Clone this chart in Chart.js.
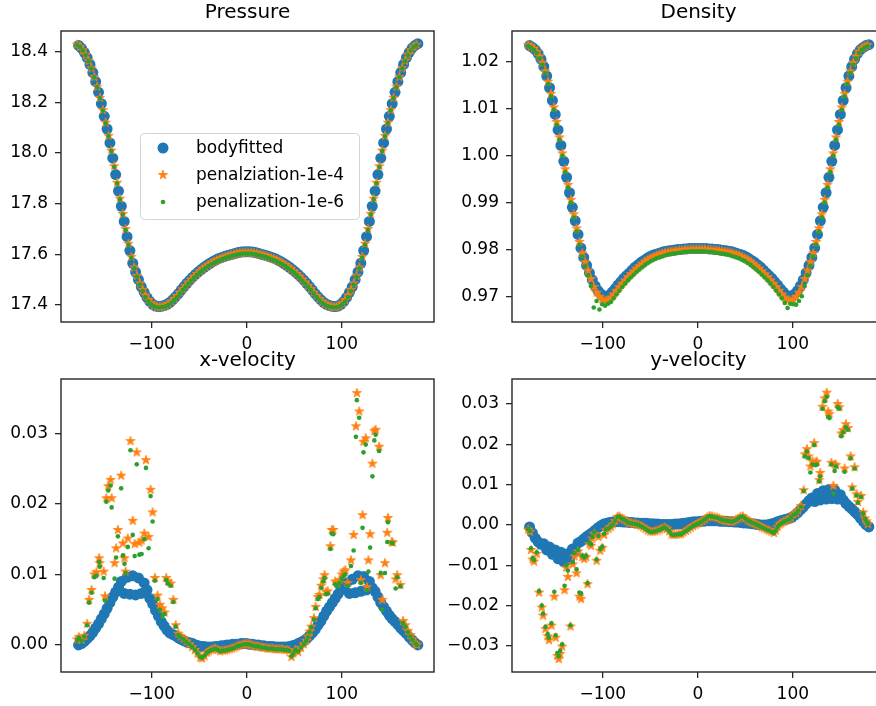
<!DOCTYPE html>
<html>
<head>
<meta charset="utf-8">
<title>Distribuicoes na superficie</title>
<script src="https://cdn.jsdelivr.net/npm/chart.js@4.4.0/dist/chart.umd.min.js"></script>
<style>
    html, body { margin: 0; padding: 0; background: #fff; overflow: hidden; }
    #figura { position: relative; width: 876px; height: 706px; overflow: hidden; }
    #figura canvas { position: absolute; }
</style>
</head>
<body>
<div id="figura">
    <canvas id="graficoPressao" width="440" height="350" style="left:0px;top:0px"></canvas>
    <canvas id="graficoDensidade" width="451" height="350" style="left:440px;top:0px"></canvas>
    <canvas id="graficoVelX" width="440" height="356" style="left:0px;top:350px"></canvas>
    <canvas id="graficoVelY" width="451" height="356" style="left:440px;top:350px"></canvas>
</div>
<script>
// angulos (graus) dos pontos na superficie - malha bodyfitted
const anguloBody = [
    -177, -174, -171, -168, -165, -162, -159, -156, -153, -150,
    -147, -144, -141, -138, -135, -132, -129, -126, -123, -120,
    -117, -114, -111, -108, -105, -102, -99, -96, -93, -90,
    -87, -84, -81, -78, -75, -72, -69, -66, -63, -60,
    -57, -54, -51, -48, -45, -42, -39, -36, -33, -30,
    -27, -24, -21, -18, -15, -12, -9, -6, -3, 0,
    3, 6, 9, 12, 15, 18, 21, 24, 27, 30,
    33, 36, 39, 42, 45, 48, 51, 54, 57, 60,
    63, 66, 69, 72, 75, 78, 81, 84, 87, 90,
    93, 96, 99, 102, 105, 108, 111, 114, 117, 120,
    123, 126, 129, 132, 135, 138, 141, 144, 147, 150,
    153, 156, 159, 162, 165, 168, 171, 174, 177, 180
];

// angulos dos pontos da penalizacao (pressao e densidade)
const anguloPen = [
    -178.5, -175.5, -172.5, -169.5, -166.5, -163.5, -160.5, -157.5, -154.5, -151.5,
    -148.5, -145.5, -142.5, -139.5, -136.5, -133.5, -130.5, -127.5, -124.5, -121.5,
    -118.5, -115.5, -112.5, -109.5, -106.5, -103.5, -100.5, -97.5, -94.5, -91.5,
    -88.5, -85.5, -82.5, -79.5, -76.5, -73.5, -70.5, -67.5, -64.5, -61.5,
    -58.5, -55.5, -52.5, -49.5, -46.5, -43.5, -40.5, -37.5, -34.5, -31.5,
    -28.5, -25.5, -22.5, -19.5, -16.5, -13.5, -10.5, -7.5, -4.5, -1.5,
    1.5, 4.5, 7.5, 10.5, 13.5, 16.5, 19.5, 22.5, 25.5, 28.5,
    31.5, 34.5, 37.5, 40.5, 43.5, 46.5, 49.5, 52.5, 55.5, 58.5,
    61.5, 64.5, 67.5, 70.5, 73.5, 76.5, 79.5, 82.5, 85.5, 88.5,
    91.5, 94.5, 97.5, 100.5, 103.5, 106.5, 109.5, 112.5, 115.5, 118.5,
    121.5, 124.5, 127.5, 130.5, 133.5, 136.5, 139.5, 142.5, 145.5, 148.5,
    151.5, 154.5, 157.5, 160.5, 163.5, 166.5, 169.5, 172.5, 175.5, 178.5
];

// Pressure
const pressaoBody = [
    18.425, 18.414, 18.398, 18.377, 18.350, 18.318, 18.282, 18.240, 18.195, 18.145,
    18.095, 18.040, 17.980, 17.915, 17.850, 17.790, 17.730, 17.670, 17.615, 17.565,
    17.530, 17.500, 17.472, 17.450, 17.430, 17.414, 17.403, 17.396, 17.394, 17.395,
    17.398, 17.403, 17.410, 17.420, 17.432, 17.445, 17.459, 17.473, 17.486, 17.498,
    17.510, 17.521, 17.531, 17.540, 17.549, 17.557, 17.564, 17.571, 17.577, 17.583,
    17.587, 17.591, 17.595, 17.598, 17.601, 17.604, 17.607, 17.609, 17.610, 17.610,
    17.610, 17.609, 17.607, 17.604, 17.601, 17.598, 17.595, 17.591, 17.587, 17.583,
    17.577, 17.571, 17.564, 17.557, 17.549, 17.540, 17.531, 17.521, 17.510, 17.498,
    17.486, 17.473, 17.459, 17.445, 17.432, 17.420, 17.410, 17.403, 17.398, 17.395,
    17.394, 17.396, 17.403, 17.414, 17.430, 17.450, 17.472, 17.500, 17.530, 17.565,
    17.615, 17.670, 17.730, 17.790, 17.850, 17.915, 17.980, 18.040, 18.095, 18.145,
    18.195, 18.240, 18.282, 18.318, 18.350, 18.377, 18.398, 18.414, 18.425, 18.432
];
const pressaoPen4 = [
    18.428, 18.420, 18.406, 18.388, 18.364, 18.335, 18.300, 18.262, 18.218, 18.170,
    18.120, 18.068, 18.010, 17.948, 17.883, 17.820, 17.760, 17.700, 17.642, 17.590,
    17.548, 17.515, 17.485, 17.460, 17.438, 17.420, 17.407, 17.398, 17.393, 17.392,
    17.394, 17.398, 17.404, 17.413, 17.424, 17.436, 17.449, 17.463, 17.476, 17.489,
    17.501, 17.512, 17.523, 17.533, 17.542, 17.550, 17.558, 17.565, 17.571, 17.577,
    17.582, 17.586, 17.590, 17.594, 17.597, 17.600, 17.603, 17.605, 17.607, 17.607,
    17.607, 17.607, 17.605, 17.603, 17.600, 17.597, 17.594, 17.590, 17.586, 17.582,
    17.577, 17.571, 17.565, 17.558, 17.550, 17.542, 17.533, 17.523, 17.512, 17.501,
    17.489, 17.476, 17.463, 17.449, 17.436, 17.424, 17.413, 17.404, 17.398, 17.394,
    17.392, 17.393, 17.398, 17.407, 17.420, 17.438, 17.460, 17.485, 17.515, 17.548,
    17.590, 17.642, 17.700, 17.760, 17.820, 17.883, 17.948, 18.010, 18.068, 18.120,
    18.170, 18.218, 18.262, 18.300, 18.335, 18.364, 18.388, 18.406, 18.420, 18.428
];
const pressaoPen6 = [
    18.427, 18.419, 18.405, 18.387, 18.363, 18.334, 18.299, 18.260, 18.216, 18.168,
    18.118, 18.066, 18.008, 17.945, 17.880, 17.817, 17.757, 17.696, 17.638, 17.586,
    17.545, 17.512, 17.481, 17.455, 17.432, 17.415, 17.403, 17.395, 17.391, 17.390,
    17.392, 17.395, 17.401, 17.409, 17.420, 17.432, 17.445, 17.459, 17.472, 17.485,
    17.497, 17.508, 17.519, 17.529, 17.538, 17.546, 17.554, 17.561, 17.567, 17.573,
    17.578, 17.582, 17.586, 17.590, 17.593, 17.596, 17.599, 17.601, 17.603, 17.603,
    17.603, 17.603, 17.601, 17.599, 17.596, 17.593, 17.590, 17.586, 17.582, 17.578,
    17.573, 17.567, 17.561, 17.554, 17.546, 17.538, 17.529, 17.519, 17.508, 17.497,
    17.485, 17.472, 17.459, 17.445, 17.432, 17.420, 17.409, 17.401, 17.395, 17.392,
    17.390, 17.391, 17.395, 17.403, 17.415, 17.432, 17.455, 17.481, 17.512, 17.545,
    17.586, 17.638, 17.696, 17.757, 17.817, 17.880, 17.945, 18.008, 18.066, 18.118,
    18.168, 18.216, 18.260, 18.299, 18.334, 18.363, 18.387, 18.405, 18.419, 18.427
];

// Density
const densBody = [
    1.0235, 1.0231, 1.0226, 1.0218, 1.0206, 1.0190, 1.0170, 1.0145, 1.0118, 1.0088,
    1.0055, 1.0022, 0.9988, 0.9954, 0.9921, 0.9890, 0.9861, 0.9832, 0.9803, 0.9783,
    0.9766, 0.9750, 0.9735, 0.9722, 0.9712, 0.9705, 0.9699, 0.9699, 0.9703, 0.9709,
    0.9716, 0.9724, 0.9731, 0.9738, 0.9744, 0.9750, 0.9756, 0.9762, 0.9767, 0.9772,
    0.9776, 0.9780, 0.9784, 0.9787, 0.9789, 0.9791, 0.9793, 0.9795, 0.9796, 0.9797,
    0.9798, 0.9799, 0.9800, 0.9800, 0.9801, 0.9801, 0.9802, 0.9802, 0.9802, 0.9802,
    0.9802, 0.9802, 0.9802, 0.9801, 0.9801, 0.9800, 0.9800, 0.9799, 0.9798, 0.9797,
    0.9796, 0.9795, 0.9793, 0.9791, 0.9789, 0.9787, 0.9784, 0.9780, 0.9776, 0.9772,
    0.9767, 0.9762, 0.9756, 0.9750, 0.9744, 0.9738, 0.9731, 0.9724, 0.9716, 0.9709,
    0.9703, 0.9699, 0.9699, 0.9705, 0.9712, 0.9722, 0.9735, 0.9750, 0.9766, 0.9783,
    0.9803, 0.9832, 0.9861, 0.9890, 0.9921, 0.9954, 0.9988, 1.0022, 1.0055, 1.0088,
    1.0118, 1.0145, 1.0170, 1.0190, 1.0206, 1.0218, 1.0226, 1.0231, 1.0235, 1.0237
];
const densPen4 = [
    1.0236, 1.0233, 1.0229, 1.0222, 1.0212, 1.0198, 1.0180, 1.0158, 1.0132, 1.0103,
    1.0072, 1.0039, 1.0005, 0.9971, 0.9938, 0.9906, 0.9875, 0.9845, 0.9816, 0.9792,
    0.9773, 0.9755, 0.9737, 0.9720, 0.9708, 0.9699, 0.9693, 0.9690, 0.9692, 0.9697,
    0.9704, 0.9712, 0.9720, 0.9727, 0.9734, 0.9741, 0.9747, 0.9753, 0.9759, 0.9764,
    0.9769, 0.9774, 0.9778, 0.9781, 0.9784, 0.9787, 0.9789, 0.9791, 0.9793, 0.9794,
    0.9795, 0.9796, 0.9797, 0.9798, 0.9798, 0.9799, 0.9799, 0.9800, 0.9800, 0.9800,
    0.9800, 0.9800, 0.9800, 0.9799, 0.9799, 0.9798, 0.9798, 0.9797, 0.9796, 0.9795,
    0.9794, 0.9793, 0.9791, 0.9789, 0.9787, 0.9784, 0.9781, 0.9778, 0.9774, 0.9769,
    0.9764, 0.9759, 0.9753, 0.9747, 0.9741, 0.9734, 0.9727, 0.9720, 0.9712, 0.9704,
    0.9697, 0.9692, 0.9690, 0.9693, 0.9699, 0.9708, 0.9720, 0.9737, 0.9755, 0.9773,
    0.9792, 0.9816, 0.9845, 0.9875, 0.9906, 0.9938, 0.9971, 1.0005, 1.0039, 1.0072,
    1.0103, 1.0132, 1.0158, 1.0180, 1.0198, 1.0212, 1.0222, 1.0229, 1.0233, 1.0236
];
const densPen6 = [
    1.0234, 1.0231, 1.0226, 1.0219, 1.0208, 1.0194, 1.0176, 1.0153, 1.0127, 1.0098,
    1.0066, 1.0034, 1.0000, 0.9965, 0.9932, 0.9900, 0.9868, 0.9838, 0.9810, 0.9785,
    0.9765, 0.9745, 0.9722, 0.9676, 0.9690, 0.9672, 0.9683, 0.9680, 0.9684, 0.9688,
    0.9696, 0.9704, 0.9712, 0.9720, 0.9727, 0.9734, 0.9740, 0.9746, 0.9752, 0.9757,
    0.9762, 0.9767, 0.9771, 0.9775, 0.9778, 0.9781, 0.9783, 0.9785, 0.9787, 0.9789,
    0.9790, 0.9791, 0.9792, 0.9793, 0.9794, 0.9795, 0.9795, 0.9796, 0.9796, 0.9796,
    0.9796, 0.9796, 0.9796, 0.9795, 0.9795, 0.9794, 0.9793, 0.9792, 0.9791, 0.9790,
    0.9789, 0.9787, 0.9785, 0.9783, 0.9781, 0.9778, 0.9775, 0.9771, 0.9767, 0.9762,
    0.9757, 0.9752, 0.9746, 0.9740, 0.9734, 0.9727, 0.9720, 0.9712, 0.9704, 0.9696,
    0.9686, 0.9675, 0.9684, 0.9683, 0.9682, 0.9690, 0.9700, 0.9722, 0.9745, 0.9765,
    0.9785, 0.9810, 0.9838, 0.9868, 0.9900, 0.9932, 0.9965, 1.0000, 1.0034, 1.0066,
    1.0098, 1.0127, 1.0153, 1.0176, 1.0194, 1.0208, 1.0219, 1.0226, 1.0231, 1.0234
];

// x-velocity
const velXBody = [
    0.0000, 0.0002, 0.0005, 0.0009, 0.0013, 0.0018, 0.0024, 0.0030, 0.0037, 0.0044,
    0.0052, 0.0060, 0.0068, 0.0075, 0.0082, 0.0090, 0.0073, 0.0096, 0.0072, 0.0098,
    0.0071, 0.0095, 0.0073, 0.0088, 0.0078, 0.0066, 0.0058, 0.0049, 0.0041, 0.0033,
    0.0027, 0.0021, 0.0017, 0.0015, 0.0013, 0.0010, 0.0008, 0.0006, 0.0004, 0.0003,
    0.0002, 0.0000, -0.0001, -0.0002, -0.0002, -0.0003, -0.0003, -0.0003, -0.0002, -0.0002,
    -0.0001, -0.0001, 0.0000, 0.0000, 0.0001, 0.0001, 0.0001, 0.0002, 0.0002, 0.0002,
    0.0001, 0.0001, 0.0000, 0.0000, -0.0001, -0.0001, -0.0002, -0.0002, -0.0002, -0.0003,
    -0.0003, -0.0003, -0.0003, -0.0003, -0.0002, -0.0001, 0.0000, 0.0002, 0.0004, 0.0006,
    0.0009, 0.0013, 0.0017, 0.0022, 0.0028, 0.0034, 0.0041, 0.0048, 0.0054, 0.0060,
    0.0066, 0.0072, 0.0078, 0.0083, 0.0088, 0.0073, 0.0093, 0.0074, 0.0098, 0.0076,
    0.0097, 0.0078, 0.0090, 0.0081, 0.0076, 0.0068, 0.0060, 0.0054, 0.0048, 0.0042,
    0.0037, 0.0033, 0.0029, 0.0024, 0.0020, 0.0016, 0.0011, 0.0007, 0.0003, 0.0000
];
const anguloVelX = [
    -178.5, -176.7, -173.9, -171.0, -168.0, -165.9, -163.4, -160.5, -158.2, -155.4,
    -154.8, -150.6, -149.2, -147.8, -145.8, -143.3, -142.2, -139.1, -137.5, -135.6,
    -132.2, -130.4, -128.7, -127.6, -125.2, -122.4, -120.0, -118.0, -115.8, -113.0,
    -110.7, -107.8, -106.1, -103.3, -101.2, -99.1, -96.7, -93.9, -91.5, -89.0,
    -86.5, -84.8, -83.0, -80.0, -77.3, -74.8, -72.0, -69.6, -66.5, -63.5,
    -60.5, -57.5, -54.5, -51.8, -49.0, -47.0, -44.5, -42.0, -40.0, -37.5,
    -35.0, -33.0, -30.5, -28.0, -25.5, -23.0, -20.5, -18.0, -15.5, -13.0,
    -10.5, -8.0, -5.5, -3.0, -0.5, 2.0, 4.5, 7.0, 9.5, 12.0,
    14.5, 17.0, 19.5, 22.0, 24.5, 27.0, 29.5, 32.0, 34.5, 37.0,
    39.5, 42.0, 44.5, 47.0, 49.0, 51.0, 54.0, 57.0, 60.0, 62.5,
    64.5, 66.0, 67.8, 70.6, 72.5, 74.8, 76.5, 78.3, 80.5, 81.8,
    83.5, 85.2, 88.0, 89.5, 91.0, 93.0, 95.0, 97.5, 100.0, 102.0,
    103.7, 106.0, 109.6, 112.4, 114.8, 115.8, 118.3, 120.0, 121.8, 122.8,
    125.2, 126.5, 128.0, 129.8, 132.2, 134.2, 135.6, 139.2, 140.9, 142.6,
    145.4, 147.8, 148.5, 152.5, 153.5, 156.6, 158.3, 161.7, 164.5, 167.0,
    169.5, 172.1, 174.5, 177.4, 179.0
];
const velXPen4 = [
    0.0008, 0.0011, 0.0007, 0.0013, 0.0030, 0.0064, 0.0078, 0.0100, 0.0103, 0.0123,
    0.0116, 0.0104, 0.0069, 0.0208, 0.0225, 0.0234, 0.0208, 0.0116, 0.0137, 0.0163,
    0.0240, 0.0144, 0.0123, 0.0104, 0.0151, 0.0289, 0.0176, 0.0143, 0.0273, 0.0145,
    0.0148, 0.0158, 0.0262, 0.0153, 0.0220, 0.0188, 0.0095, 0.0070, 0.0057, 0.0052,
    0.0046, 0.0095, 0.0090, 0.0087, 0.0064, 0.0028, 0.0016, 0.0012, 0.0009, 0.0005,
    0.0001, -0.0003, -0.0007, -0.0012, -0.0018, -0.0019, -0.0016, -0.0011, -0.0009, -0.0007,
    -0.0006, -0.0005, -0.0007, -0.0009, -0.0008, -0.0008, -0.0007, -0.0006, -0.0005, -0.0004,
    -0.0002, -0.0001, 0.0000, 0.0001, 0.0002, 0.0001, 0.0000, -0.0001, -0.0002, -0.0002,
    -0.0003, -0.0004, -0.0004, -0.0005, -0.0005, -0.0005, -0.0006, -0.0006, -0.0006, -0.0006,
    -0.0007, -0.0007, -0.0008, -0.0017, -0.0012, -0.0007, -0.0010, -0.0004, 0.0001, 0.0006,
    0.0012, 0.0019, 0.0026, 0.0038, 0.0054, 0.0068, 0.0071, 0.0084, 0.0093, 0.0099,
    0.0075, 0.0076, 0.0140, 0.0163, 0.0163, 0.0090, 0.0087, 0.0092, 0.0100, 0.0104,
    0.0106, 0.0088, 0.0120, 0.0156, 0.0310, 0.0357, 0.0331, 0.0092, 0.0184, 0.0288,
    0.0293, 0.0082, 0.0120, 0.0157, 0.0257, 0.0303, 0.0305, 0.0281, 0.0099, 0.0064,
    0.0116, 0.0159, 0.0180, 0.0146, 0.0145, 0.0093, 0.0099, 0.0085, 0.0034, 0.0028,
    0.0020, 0.0014, 0.0008, 0.0002, 0.0000
];
const velXPen6 = [
    0.0007, 0.0010, 0.0006, 0.0012, 0.0028, 0.0060, 0.0074, 0.0096, 0.0098, 0.0118,
    0.0111, 0.0095, 0.0063, 0.0203, 0.0219, 0.0226, 0.0195, 0.0094, 0.0124, 0.0154,
    0.0222, 0.0127, 0.0115, 0.0102, 0.0139, 0.0276, 0.0156, 0.0126, 0.0256, 0.0128,
    0.0129, 0.0150, 0.0251, 0.0137, 0.0211, 0.0175, 0.0091, 0.0065, 0.0050, 0.0040,
    0.0044, 0.0092, 0.0087, 0.0084, 0.0061, 0.0026, 0.0014, 0.0011, 0.0008, 0.0004,
    0.0001, -0.0003, -0.0007, -0.0012, -0.0017, -0.0018, -0.0015, -0.0011, -0.0009, -0.0007,
    -0.0006, -0.0005, -0.0007, -0.0009, -0.0008, -0.0008, -0.0007, -0.0006, -0.0005, -0.0004,
    -0.0002, -0.0001, 0.0000, 0.0001, 0.0001, 0.0001, 0.0000, -0.0001, -0.0002, -0.0002,
    -0.0003, -0.0004, -0.0004, -0.0005, -0.0005, -0.0005, -0.0006, -0.0006, -0.0006, -0.0006,
    -0.0007, -0.0007, -0.0008, -0.0016, -0.0012, -0.0007, -0.0009, -0.0004, 0.0001, 0.0006,
    0.0011, 0.0018, 0.0025, 0.0036, 0.0052, 0.0065, 0.0068, 0.0081, 0.0090, 0.0095,
    0.0072, 0.0073, 0.0136, 0.0158, 0.0157, 0.0086, 0.0083, 0.0088, 0.0094, 0.0098,
    0.0100, 0.0084, 0.0112, 0.0134, 0.0295, 0.0347, 0.0322, 0.0088, 0.0166, 0.0273,
    0.0284, 0.0078, 0.0104, 0.0138, 0.0239, 0.0290, 0.0298, 0.0275, 0.0102, 0.0050,
    0.0102, 0.0146, 0.0174, 0.0145, 0.0144, 0.0080, 0.0096, 0.0083, 0.0031, 0.0026,
    0.0018, 0.0012, 0.0007, 0.0002, 0.0000
];

// y-velocity
const velYBody = [
    -0.0005, -0.0020, -0.0033, -0.0042, -0.0048, -0.0047, -0.0062, -0.0055, -0.0073, -0.0062,
    -0.0084, -0.0068, -0.0092, -0.0072, -0.0086, -0.0060, -0.0066, -0.0045, -0.0041, -0.0035,
    -0.0029, -0.0024, -0.0019, -0.0013, -0.0007, -0.0002, 0.0002, 0.0004, 0.0006, 0.0007,
    0.0008, 0.0008, 0.0008, 0.0007, 0.0007, 0.0006, 0.0006, 0.0005, 0.0005, 0.0004,
    0.0004, 0.0004, 0.0003, 0.0003, 0.0002, 0.0002, 0.0001, 0.0001, 0.0001, 0.0001,
    0.0001, 0.0002, 0.0002, 0.0003, 0.0004, 0.0005, 0.0006, 0.0007, 0.0008, 0.0008,
    0.0009, 0.0009, 0.0010, 0.0010, 0.0010, 0.0010, 0.0010, 0.0009, 0.0009, 0.0009,
    0.0008, 0.0008, 0.0007, 0.0007, 0.0006, 0.0005, 0.0005, 0.0004, 0.0003, 0.0002,
    0.0001, 0.0000, 0.0000, 0.0000, 0.0001, 0.0003, 0.0005, 0.0008, 0.0010, 0.0012,
    0.0014, 0.0016, 0.0019, 0.0024, 0.0030, 0.0037, 0.0044, 0.0052, 0.0060, 0.0067,
    0.0058, 0.0078, 0.0062, 0.0085, 0.0064, 0.0088, 0.0065, 0.0087, 0.0064, 0.0075,
    0.0062, 0.0053, 0.0046, 0.0040, 0.0033, 0.0026, 0.0017, 0.0009, 0.0001, -0.0005
];
const anguloVelY = [
    -178.5, -176.7, -175.5, -173.8, -172.3, -169.5, -167.0, -164.2, -162.8, -160.3,
    -158.0, -156.6, -154.0, -151.0, -149.6, -147.8, -146.3, -144.8, -142.7, -140.2,
    -138.4, -136.7, -134.0, -131.5, -129.7, -127.5, -126.0, -124.6, -122.8, -121.5,
    -119.5, -117.5, -116.0, -114.0, -112.3, -110.8, -109.0, -106.5, -104.5, -102.6,
    -100.5, -98.5, -96.7, -94.0, -91.5, -89.5, -87.0, -84.5, -82.5, -80.0,
    -77.5, -75.0, -72.5, -70.0, -67.5, -65.0, -62.5, -60.0, -57.5, -55.0,
    -52.5, -50.0, -47.5, -45.0, -42.5, -40.0, -37.5, -35.0, -32.5, -30.0,
    -27.5, -25.0, -22.5, -20.0, -17.5, -15.0, -12.5, -10.0, -7.5, -5.0,
    -2.5, 0.0, 2.5, 5.0, 7.5, 10.0, 12.5, 15.0, 17.5, 20.0,
    22.5, 25.0, 27.5, 30.0, 32.5, 35.0, 37.5, 40.0, 42.5, 45.0,
    47.5, 50.0, 52.5, 55.0, 57.5, 60.0, 62.5, 65.0, 67.5, 70.0,
    72.5, 75.0, 77.5, 80.0, 82.0, 84.0, 86.0, 88.0, 90.5, 93.0,
    95.5, 98.0, 100.5, 103.4, 105.5, 108.6, 111.4, 112.7, 114.8, 116.6,
    118.5, 120.8, 122.5, 123.8, 125.3, 127.8, 128.8, 131.2, 133.6, 135.7,
    137.2, 138.6, 140.6, 142.7, 144.0, 145.5, 147.2, 149.0, 151.0, 153.0,
    154.5, 155.8, 158.0, 160.8, 162.5, 165.0, 167.0, 168.5, 171.9, 174.0,
    176.0, 177.5, 179.0
];
const velYPen4 = [
    -0.0012, -0.0017, -0.0062, -0.0086, -0.0091, -0.0072, -0.0168, -0.0205, -0.0225, -0.0258,
    -0.0276, -0.0286, -0.0250, -0.0178, -0.0280, -0.0325, -0.0333, -0.0320, -0.0302, -0.0162,
    -0.0106, -0.0129, -0.0252, -0.0098, -0.0078, -0.0120, -0.0066, -0.0178, -0.0184, -0.0080,
    -0.0085, -0.0080, -0.0147, -0.0048, -0.0052, -0.0034, -0.0022, -0.0089, -0.0030, -0.0064,
    -0.0057, -0.0025, -0.0013, -0.0010, -0.0005, 0.0001, 0.0010, 0.0020, 0.0021, 0.0016,
    0.0013, 0.0009, 0.0005, 0.0004, 0.0003, 0.0002, 0.0000, -0.0003, -0.0006, -0.0010,
    -0.0014, -0.0017, -0.0017, -0.0016, -0.0014, -0.0012, -0.0009, -0.0006, -0.0010, -0.0016,
    -0.0024, -0.0025, -0.0024, -0.0023, -0.0023, -0.0019, -0.0015, -0.0011, -0.0007, -0.0003,
    0.0000, 0.0003, 0.0006, 0.0010, 0.0014, 0.0019, 0.0022, 0.0021, 0.0019, 0.0018,
    0.0016, 0.0013, 0.0011, 0.0010, 0.0009, 0.0008, 0.0009, 0.0012, 0.0016, 0.0020,
    0.0021, 0.0016, 0.0011, 0.0008, 0.0005, 0.0003, 0.0000, -0.0003, -0.0006, -0.0009,
    -0.0012, -0.0014, -0.0017, -0.0020, -0.0014, -0.0005, 0.0001, 0.0004, 0.0008, 0.0011,
    0.0013, 0.0018, 0.0026, 0.0029, 0.0036, 0.0047, 0.0086, 0.0175, 0.0188, 0.0170,
    0.0145, 0.0157, 0.0203, 0.0155, 0.0157, 0.0111, 0.0129, 0.0293, 0.0314, 0.0328,
    0.0281, 0.0275, 0.0154, 0.0097, 0.0150, 0.0148, 0.0300, 0.0292, 0.0227, 0.0235,
    0.0140, 0.0250, 0.0240, 0.0170, 0.0093, 0.0143, 0.0076, 0.0057, 0.0072, 0.0031,
    0.0016, 0.0009, 0.0002
];
const velYPen6 = [
    -0.0010, -0.0015, -0.0058, -0.0082, -0.0087, -0.0068, -0.0164, -0.0200, -0.0220, -0.0253,
    -0.0271, -0.0280, -0.0244, -0.0166, -0.0274, -0.0318, -0.0326, -0.0312, -0.0296, -0.0151,
    -0.0100, -0.0113, -0.0249, -0.0092, -0.0070, -0.0110, -0.0062, -0.0168, -0.0170, -0.0076,
    -0.0081, -0.0076, -0.0144, -0.0044, -0.0048, -0.0030, -0.0019, -0.0086, -0.0027, -0.0060,
    -0.0054, -0.0022, -0.0011, -0.0009, -0.0004, 0.0001, 0.0010, 0.0020, 0.0021, 0.0016,
    0.0013, 0.0009, 0.0005, 0.0004, 0.0003, 0.0002, 0.0000, -0.0003, -0.0006, -0.0010,
    -0.0014, -0.0017, -0.0017, -0.0016, -0.0014, -0.0012, -0.0009, -0.0006, -0.0010, -0.0016,
    -0.0024, -0.0025, -0.0024, -0.0023, -0.0023, -0.0019, -0.0015, -0.0011, -0.0007, -0.0003,
    0.0000, 0.0003, 0.0006, 0.0010, 0.0014, 0.0019, 0.0022, 0.0021, 0.0019, 0.0018,
    0.0016, 0.0013, 0.0011, 0.0010, 0.0009, 0.0008, 0.0009, 0.0012, 0.0016, 0.0020,
    0.0021, 0.0016, 0.0011, 0.0008, 0.0005, 0.0003, 0.0000, -0.0003, -0.0006, -0.0009,
    -0.0012, -0.0014, -0.0017, -0.0020, -0.0014, -0.0005, 0.0001, 0.0004, 0.0008, 0.0011,
    0.0013, 0.0018, 0.0025, 0.0028, 0.0035, 0.0045, 0.0084, 0.0170, 0.0182, 0.0166,
    0.0130, 0.0150, 0.0198, 0.0148, 0.0150, 0.0108, 0.0120, 0.0288, 0.0307, 0.0318,
    0.0268, 0.0265, 0.0150, 0.0078, 0.0134, 0.0145, 0.0292, 0.0288, 0.0220, 0.0230,
    0.0132, 0.0242, 0.0236, 0.0165, 0.0090, 0.0140, 0.0073, 0.0055, 0.0069, 0.0029,
    0.0015, 0.0008, 0.0002
];

// ticks dos eixos
const xTicks = [-100, 0, 100];
const xRotulos = ['\u2212100', '0', '100'];
const pressaoTicks = [17.4, 17.6, 17.8, 18.0, 18.2, 18.4];
const pressaoRotulos = ['17.4', '17.6', '17.8', '18.0', '18.2', '18.4'];
const densTicks = [0.97, 0.98, 0.99, 1.00, 1.01, 1.02];
const densRotulos = ['0.97', '0.98', '0.99', '1.00', '1.01', '1.02'];
const velXTicks = [0, 0.01, 0.02, 0.03];
const velXRotulos = ['0.00', '0.01', '0.02', '0.03'];
const velYTicks = [-0.03, -0.02, -0.01, 0, 0.01, 0.02, 0.03];
const velYRotulos = ['\u22120.03', '\u22120.02', '\u22120.01', '0.00', '0.01', '0.02', '0.03'];

const nomesSeries = ['bodyfitted', 'penalziation-1e-4', 'penalization-1e-6'];

const AZUL = '#1f77b4';
const LARANJA = '#ff7f0e';
const VERDE = '#2ca02c';

Chart.defaults.font.family = "'DejaVu Sans', sans-serif";
Chart.defaults.font.size = 17;
Chart.defaults.color = '#000';

// estrela de 5 pontas (marcador '*' do matplotlib)
function fazerEstrela(cor, raio) {
    const c = document.createElement('canvas');
    c.width = 12;
    c.height = 12;
    const g = c.getContext('2d');
    g.beginPath();
    for (let i = 0; i < 10; i++) {
        const r = i % 2 === 0 ? raio : raio * 0.382;
        const ang = -Math.PI / 2 + i * Math.PI / 5;
        const px = 6 + r * Math.cos(ang);
        const py = 6 + r * Math.sin(ang);
        if (i === 0) g.moveTo(px, py); else g.lineTo(px, py);
    }
    g.closePath();
    g.fillStyle = cor;
    g.fill();
    g.strokeStyle = cor;
    g.lineWidth = 0.8;
    g.stroke();
    return c;
}
const estrela = fazerEstrela(LARANJA, 4.8);

function pontos(xs, ys) {
    return xs.map((x, i) => ({ x: x, y: ys[i] }));
}

function series(angBody, body, angPen, pen4, pen6) {
    return [
        { label: nomesSeries[0], data: pontos(angBody, body), pointStyle: 'circle', pointRadius: 5.5,
          backgroundColor: AZUL, borderColor: AZUL, borderWidth: 0, order: 3 },
        { label: nomesSeries[1], data: pontos(angPen, pen4), pointStyle: estrela, pointRadius: 5,
          backgroundColor: LARANJA, borderColor: LARANJA, order: 2 },
        { label: nomesSeries[2], data: pontos(angPen, pen6), pointStyle: 'circle', pointRadius: 2.3,
          backgroundColor: VERDE, borderColor: VERDE, borderWidth: 0, order: 1 }
    ];
}

// moldura dos 4 lados + titulo de cada painel
const molduraPlugin = {
    id: 'moldura',
    afterDraw(chart, args, opcoes) {
        const a = chart.chartArea;
        const ctx = chart.ctx;
        ctx.save();
        ctx.strokeStyle = '#262626';
        ctx.lineWidth = 1.4;
        ctx.strokeRect(a.left, a.top, a.right - a.left, a.bottom - a.top);
        ctx.fillStyle = '#000';
        ctx.font = "20px 'DejaVu Sans'";
        ctx.textAlign = 'center';
        ctx.textBaseline = 'alphabetic';
        ctx.fillText(opcoes.titulo, (a.left + a.right) / 2, a.top - 13);
        ctx.restore();
    }
};

// legenda so no grafico de pressao
const legendaPlugin = {
    id: 'legenda',
    afterDraw(chart) {
        const a = chart.chartArea;
        const ctx = chart.ctx;
        const x0 = a.left + 79, y0 = a.top + 102;
        ctx.save();
        ctx.beginPath();
        ctx.roundRect(x0 + 0.5, y0 + 0.5, 219, 86, 4);
        ctx.fillStyle = 'rgba(255,255,255,0.8)';
        ctx.fill();
        ctx.strokeStyle = '#d4d4d4';
        ctx.lineWidth = 1;
        ctx.stroke();

        const mx = x0 + 23;
        const linhas = [y0 + 15, y0 + 42, y0 + 69];
        ctx.fillStyle = AZUL;
        ctx.beginPath();
        ctx.arc(mx, linhas[0], 5.5, 0, Math.PI * 2);
        ctx.fill();
        ctx.drawImage(estrela, mx - 6, linhas[1] - 6);
        ctx.fillStyle = VERDE;
        ctx.beginPath();
        ctx.arc(mx, linhas[2], 2.3, 0, Math.PI * 2);
        ctx.fill();

        ctx.fillStyle = '#000';
        ctx.font = "17px 'DejaVu Sans'";
        ctx.textAlign = 'left';
        ctx.textBaseline = 'middle';
        for (let i = 0; i < 3; i++) {
            ctx.fillText(nomesSeries[i], x0 + 56, linhas[i] + 1);
        }
        ctx.restore();
    }
};

function montarGrafico(id, titulo, dados, yMin, yMax, yTicks, yRotulos, larguraY, topo, alturaX, extras) {
    return new Chart(document.getElementById(id), {
        type: 'scatter',
        data: { datasets: dados },
        options: {
            responsive: false,
            animation: false,
            events: [],
            layout: { padding: { top: topo, left: 0, right: 3, bottom: 0 } },
            plugins: {
                legend: { display: false },
                tooltip: { enabled: false },
                moldura: { titulo: titulo }
            },
            scales: {
                x: {
                    type: 'linear',
                    min: -195.5,
                    max: 197,
                    afterBuildTicks: (eixo) => { eixo.ticks = xTicks.map(v => ({ value: v })); },
                    afterFit: (eixo) => { eixo.height = alturaX; },
                    ticks: {
                        autoSkip: false, maxRotation: 0, padding: 6, color: '#000',
                        callback: (v) => xRotulos[xTicks.indexOf(v)]
                    },
                    grid: { drawOnChartArea: false, drawTicks: true, tickLength: 6, color: '#262626', lineWidth: 1.3 },
                    border: { display: false }
                },
                y: {
                    type: 'linear',
                    min: yMin,
                    max: yMax,
                    afterBuildTicks: (eixo) => { eixo.ticks = yTicks.map(v => ({ value: v })); },
                    afterFit: (eixo) => { eixo.width = larguraY; },
                    ticks: {
                        autoSkip: false, padding: 7, color: '#000',
                        callback: (v) => yRotulos[yTicks.indexOf(v)]
                    },
                    grid: { drawOnChartArea: false, drawTicks: true, tickLength: 6, color: '#262626', lineWidth: 1.3 },
                    border: { display: false }
                }
            }
        },
        plugins: [molduraPlugin].concat(extras || [])
    });
}

montarGrafico('graficoPressao', 'Pressure',
    series(anguloBody, pressaoBody, anguloPen, pressaoPen4, pressaoPen6),
    17.333, 18.482, pressaoTicks, pressaoRotulos, 61, 31, 28, [legendaPlugin]);

montarGrafico('graficoDensidade', 'Density',
    series(anguloBody, densBody, anguloPen, densPen4, densPen6),
    0.96452, 1.02661, densTicks, densRotulos, 72, 31, 28);

montarGrafico('graficoVelX', 'x-velocity',
    series(anguloBody, velXBody, anguloVelX, velXPen4, velXPen6),
    -0.00383, 0.0377, velXTicks, velXRotulos, 61, 29, 34);

montarGrafico('graficoVelY', 'y-velocity',
    series(anguloBody, velYBody, anguloVelY, velYPen4, velYPen6),
    -0.0365, 0.0362, velYTicks, velYRotulos, 72, 29, 34);
</script>
</body>
</html>
